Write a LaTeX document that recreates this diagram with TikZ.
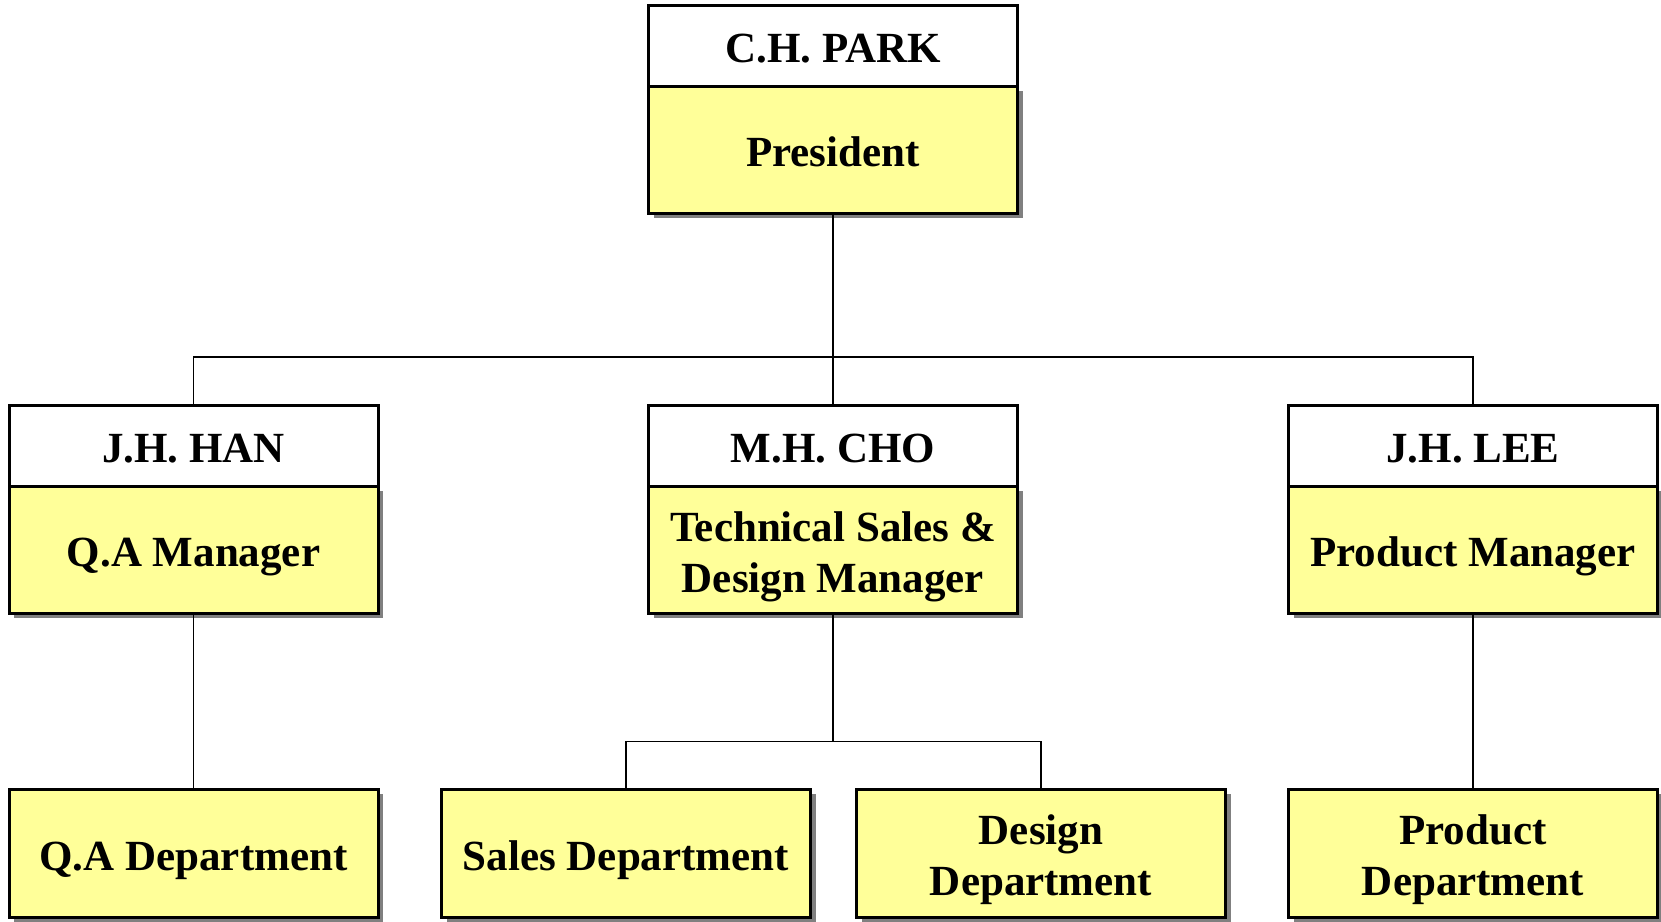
\documentclass[tikz,border=0pt]{standalone}
\usepackage{fontspec}
\setmainfont{Liberation Serif}
\usetikzlibrary{shadows}
\definecolor{boxyellow}{RGB}{255,255,153}
\definecolor{shadowgray}{RGB}{128,128,128}
\begin{document}
\begin{tikzpicture}[x=1pt,y=-1pt,
  base/.style={draw=black, line width=3pt, inner sep=0pt, outer sep=0pt,
    minimum width=369pt, align=center,
    font=\fontsize{43}{51}\selectfont\bfseries},
  oneline/.style={text height=44pt, text depth=10pt},
  twoline/.style={text height=95pt, text depth=10pt},
  namebox/.style={base, oneline, fill=white, minimum height=81pt},
  rolebox/.style={base, fill=boxyellow, minimum height=127pt,
    drop shadow={shadow xshift=5pt, shadow yshift=-5pt, fill=shadowgray, opacity=1}},
  deptbox/.style={base, fill=boxyellow, minimum height=128pt,
    drop shadow={shadow xshift=5pt, shadow yshift=-5pt, fill=shadowgray, opacity=1}},
  conn/.style={draw=black, line width=1.5pt}]
\useasboundingbox (0,0) rectangle (1661,921);
% top
\node[rolebox, oneline] (parkR) at (833,149.5) {President};
\node[namebox] (parkN) at (833,45.5) {C.H. PARK};
% middle row
\node[rolebox, oneline] (hanR) at (193.5,549.5) {Q.A Manager};
\node[namebox] (hanN) at (193.5,445.5) {J.H. HAN};
\node[rolebox, twoline] (choR) at (833,549.5) {Technical Sales \&\\Design Manager};
\node[namebox] (choN) at (833,445.5) {M.H. CHO};
\node[rolebox, oneline] (leeR) at (1473,549.5) {Product Manager};
\node[namebox] (leeN) at (1473,445.5) {J.H. LEE};
% bottom row
\node[deptbox, oneline] (qaD) at (193.5,853) {Q.A Department};
\node[deptbox, oneline] (salesD) at (626,853) {Sales Department};
\node[deptbox, twoline] (designD) at (1041,853) {Design\\Department};
\node[deptbox, twoline] (prodD) at (1473,853) {Product\\Department};
% connectors
\coordinate (bus1) at (833,357);
\coordinate (bus2) at (833,741.5);
\draw[conn] (parkR.south) -- (choN.north);
\draw[conn] (hanN.north) |- (bus1);
\draw[conn] (leeN.north) |- (bus1);
\draw[conn] (hanR.south) -- (qaD.north);
\draw[conn] (leeR.south) -- (prodD.north);
\draw[conn] (choR.south) -- (bus2);
\draw[conn] (salesD.north) |- (bus2);
\draw[conn] (designD.north) |- (bus2);
\end{tikzpicture}
\end{document}
